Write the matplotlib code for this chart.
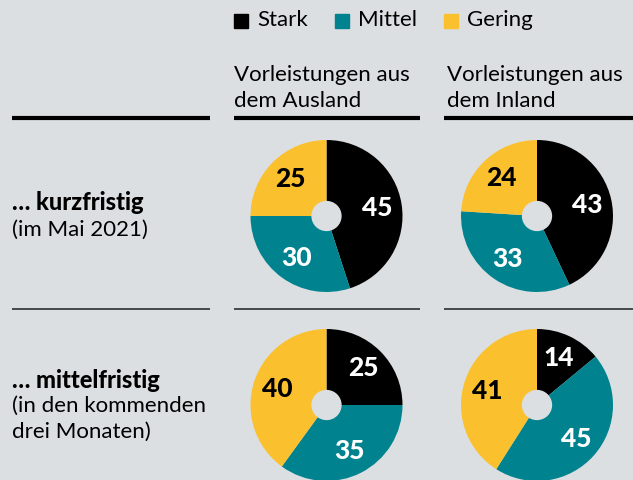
import matplotlib.pyplot as plt

plt.rcParams["font.family"] = ["Lato", "DejaVu Sans"]

# Daten
kategorien = ["Stark", "Mittel", "Gering"]
farben = ["#000000", "#00838f", "#fbc02d"]
spalten = [["Vorleistungen aus", "dem Ausland"], ["Vorleistungen aus", "dem Inland"]]
zeilen_titel = ["… kurzfristig", "… mittelfristig"]
zeilen_sub = [["(im Mai 2021)"], ["(in den kommenden", "drei Monaten)"]]
werte = [
    [[45, 30, 25], [43, 33, 24]],
    [[25, 35, 40], [14, 45, 41]],
]
label_farben = ["white", "white", "black"]

W, H = 633, 480
bg = "#dcdfe1"
fs = 16
fig = plt.figure(figsize=(W / 100, H / 100), dpi=100, facecolor=bg)


def fx(x):
    return x / W


def fy(y):
    return 1 - y / H


def hline(x0, x1, y, lw, color):
    fig.add_artist(plt.Line2D([fx(x0), fx(x1)], [fy(y), fy(y)], lw=lw, color=color,
                              transform=fig.transFigure, solid_capstyle="butt"))


# Legende
leg_x = [234, 335, 444]
for x, k, c in zip(leg_x, kategorien, farben):
    fig.patches.append(plt.Rectangle((fx(x), fy(28)), 14 / W, 14 / H, color=c,
                                     transform=fig.transFigure))
    fig.text(fx(x + 23), fy(20), k, fontsize=fs, va="center", ha="left")

# Spaltenköpfe
col_x = [234, 447]
for x, s in zip(col_x, spalten):
    fig.text(fx(x), fy(75), s[0], fontsize=fs, va="center", ha="left")
    fig.text(fx(x), fy(101), s[1], fontsize=fs, va="center", ha="left")

# Linien
segs = [(12, 210), (234, 420), (444, 633)]
for a, b in segs:
    hline(a, b, 118, 3, "#000000")
    hline(a, b, 309, 1.3, "#3a3d40")

# Zeilenbeschriftungen
titel_y = [203, 380]
sub_y = [[230], [406, 432]]
for t, ty, subs, sys_ in zip(zeilen_titel, titel_y, zeilen_sub, sub_y):
    fig.text(fx(12), fy(ty), t, fontsize=17, fontweight="black", va="center")
    for s, sy in zip(subs, sys_):
        fig.text(fx(12), fy(sy), s, fontsize=fs, va="center")

# Kreisdiagramme
centers_x = [326.5, 537]
centers_y = [216, 405]
r = 76
for i, cy in enumerate(centers_y):
    for j, cx in enumerate(centers_x):
        ax = fig.add_axes([fx(cx - r), fy(cy + r), 2 * r / W, 2 * r / H])
        ax.set_facecolor("none")
        wedges, texts, autotexts = ax.pie(
            werte[i][j], colors=farben, startangle=90, counterclock=False,
            autopct="%d", pctdistance=0.68, radius=1,
            wedgeprops=dict(linewidth=0),
            textprops=dict(fontsize=19, fontweight="black"),
        )
        for t, v, lc in zip(autotexts, werte[i][j], label_farben):
            t.set_text(str(v))
            t.set_color(lc)
        ax.add_patch(plt.Circle((0, 0), 0.19, color=bg, zorder=5))
        ax.set_xlim(-1, 1)
        ax.set_ylim(-1, 1)
        ax.set_aspect("equal")
        ax.axis("off")

fig.savefig("out.png", dpi=100, facecolor=bg)
